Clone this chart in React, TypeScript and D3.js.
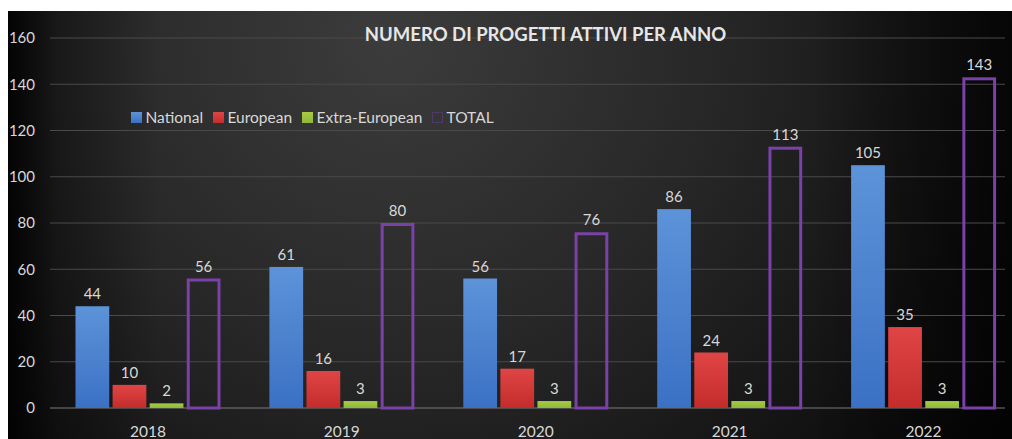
import React from "react";
import * as d3 from "d3";

const years = ["2018", "2019", "2020", "2021", "2022"];
const seriesNames = ["National", "European", "Extra-European", "TOTAL"];
const national = [44, 61, 56, 86, 105];
const european = [10, 16, 17, 24, 35];
const extraEuropean = [2, 3, 3, 3, 3];
const total = [56, 80, 76, 113, 143];
const yTicks = [0, 20, 40, 60, 80, 100, 120, 140, 160];
const title = "NUMERO DI PROGETTI ATTIVI PER ANNO";

const W = 1012;
const H = 439;
const FONT = "Lato, 'Open Sans', sans-serif";

export default function App() {
  const seriesValues = [national, european, extraEuropean, total];
  const x = d3.scaleBand<string>().domain(years).range([51, 1020.5]).paddingInner(0).paddingOuter(0);
  const inner = d3
    .scaleBand<string>()
    .domain(seriesNames)
    .range([24.5, 24.5 + 145])
    .paddingInner(0.09)
    .paddingOuter(0);
  const y = d3.scaleLinear().domain([0, 160]).range([408, 38]);
  const fills = ["url(#gBlue)", "url(#gRed)", "url(#gGreen)", "none"];
  const legendX = [131, 213, 302, 432];
  const textColor = "#d8d8d8";

  return (
    <svg
      width={W}
      height={H}
      style={{ position: "absolute", left: 0, top: 0, display: "block" }}
      fontFamily={FONT}
    >
      <defs>
        <radialGradient id="bg" cx="0.38" cy="0.05" r="0.75" gradientTransform="scale(1,2.3) translate(0,-0.02)">
          <stop offset="0" stopColor="#3c3c3c" />
          <stop offset="0.45" stopColor="#262626" />
          <stop offset="0.8" stopColor="#101010" />
          <stop offset="1" stopColor="#050505" />
        </radialGradient>
        <linearGradient id="edge" x1="0" x2="1" y1="0" y2="0">
          <stop offset="0" stopColor="#000" stopOpacity="0.9" />
          <stop offset="0.05" stopColor="#000" stopOpacity="0.35" />
          <stop offset="0.15" stopColor="#000" stopOpacity="0" />
          <stop offset="0.8" stopColor="#000" stopOpacity="0" />
          <stop offset="1" stopColor="#000" stopOpacity="0.6" />
        </linearGradient>
        <linearGradient id="gBlue" x1="0" x2="0" y1="0" y2="1">
          <stop offset="0" stopColor="#5d93d8" />
          <stop offset="1" stopColor="#3b71c4" />
        </linearGradient>
        <linearGradient id="gRed" x1="0" x2="0" y1="0" y2="1">
          <stop offset="0" stopColor="#e04545" />
          <stop offset="1" stopColor="#c42c2c" />
        </linearGradient>
        <linearGradient id="gGreen" x1="0" x2="0" y1="0" y2="1">
          <stop offset="0" stopColor="#a6cc45" />
          <stop offset="1" stopColor="#8fb83a" />
        </linearGradient>
      </defs>
      <rect x={0} y={0} width={W} height={H} fill="#ffffff" />
      <rect x={8} y={11} width={W - 8} height={H - 11} fill="url(#bg)" />
      <rect x={8} y={11} width={W - 8} height={H - 11} fill="url(#edge)" />

      {/* gridlines */}
      {yTicks.map((t) => (
        <g key={t}>
          {t > 0 && (
            <line x1={50} x2={1005} y1={y(t)} y2={y(t)} stroke="#4a4a4a" strokeWidth={1} />
          )}
          <text x={35} y={y(t)} dy="0.35em" textAnchor="end" fontSize={15} fill={textColor}>
            {t}
          </text>
        </g>
      ))}
      <line x1={50} x2={1005} y1={y(0)} y2={y(0)} stroke="#7a7a7a" strokeWidth={1.2} />

      {/* title */}
      <text x={545.5} y={41} textAnchor="middle" fontSize={18.5} fontWeight="bold" fill="#e6e6e6">
        {title}
      </text>

      {/* legend */}
      {seriesNames.map((s, i) => (
        <g key={s}>
          {i < 3 ? (
            <rect x={legendX[i]} y={112} width={11} height={11} fill={fills[i]} />
          ) : (
            <rect x={legendX[i] + 0.5} y={112.5} width={10} height={10} fill="none" stroke="#4d3a66" strokeWidth={1} />
          )}
          <text x={legendX[i] + 14.5} y={123} fontSize={15.5} fill={textColor}>
            {s}
          </text>
        </g>
      ))}

      {/* bars */}
      {years.map((yr, yi) => (
        <g key={yr} transform={`translate(${x(yr)},0)`}>
          {seriesNames.map((s, si) => {
            const v = seriesValues[si][yi];
            const bx = inner(s)!;
            const bw = inner.bandwidth();
            const top = y(v);
            return (
              <g key={s}>
                {si < 3 ? (
                  <rect x={bx} y={top} width={bw} height={y(0) - top} fill={fills[si]} />
                ) : (
                  <rect
                    x={bx + 1.5}
                    y={top + 1.5}
                    width={bw - 3}
                    height={y(0) - top - 1.5}
                    fill="none"
                    stroke="#7a42a8"
                    strokeWidth={3}
                  />
                )}
                <text x={bx + bw / 2} y={top - 7} textAnchor="middle" fontSize={15} fill={textColor}>
                  {v}
                </text>
              </g>
            );
          })}
          <text x={x.bandwidth() / 2} y={437} textAnchor="middle" fontSize={15.5} fill={textColor}>
            {yr}
          </text>
        </g>
      ))}
    </svg>
  );
}
